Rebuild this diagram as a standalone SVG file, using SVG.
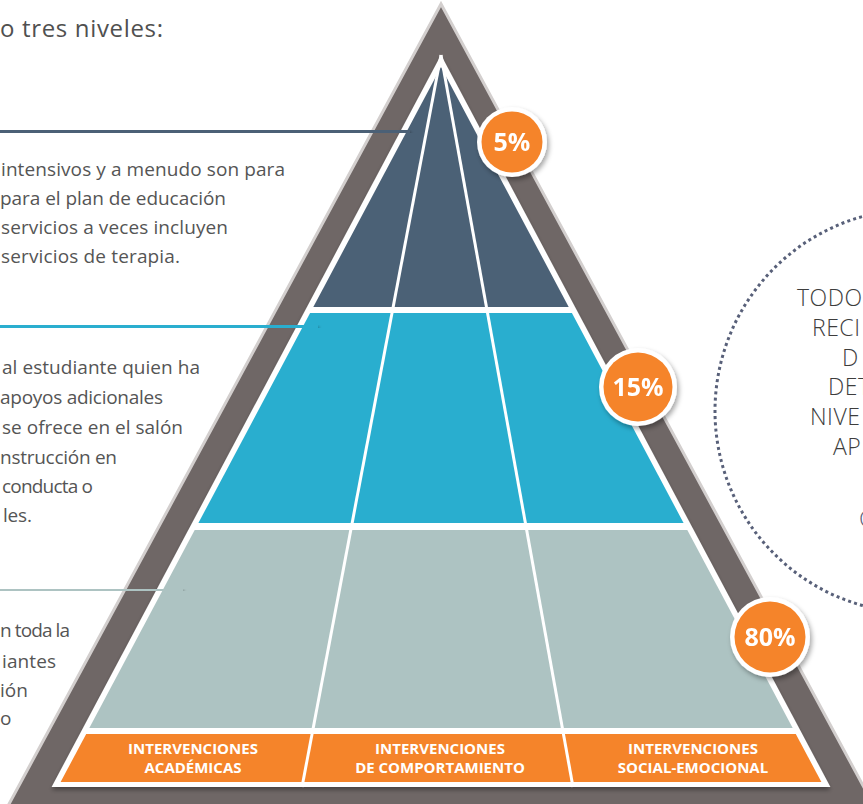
<svg xmlns="http://www.w3.org/2000/svg" width="863" height="804" viewBox="0 0 863 804">
  <defs>
    <style>
      .body{font-family:"Open Sans","Liberation Sans",sans-serif;font-size:19px;font-weight:400;fill:#555555}
      .title{font-family:"Open Sans","Liberation Sans",sans-serif;font-size:24px;font-weight:400;fill:#505050}
      .circ{font-family:"Open Sans","Liberation Sans",sans-serif;font-size:23px;font-weight:300;fill:#3d3d3d;letter-spacing:0.5px}
      .pct{font-family:"Open Sans","Liberation Sans",sans-serif;font-size:25px;font-weight:700;fill:#ffffff;text-anchor:middle}
      .lbl{font-family:"Open Sans","Liberation Sans",sans-serif;font-size:15px;font-weight:700;fill:#ffffff;text-anchor:middle}
      .divider{stroke:#ffffff;stroke-width:3;fill:none}
      .conn{stroke-width:5;fill:none}
      .ring{fill:#ffffff}
      .dot{fill:#f5842a}
    </style>
    <filter id="sh" x="-20%" y="-50%" width="140%" height="300%">
      <feDropShadow dx="1" dy="2.5" stdDeviation="1.5" flood-color="#000" flood-opacity="0.35"/>
    </filter>
    <filter id="csh" x="-30%" y="-30%" width="160%" height="160%">
      <feDropShadow dx="2" dy="3" stdDeviation="2.5" flood-color="#000" flood-opacity="0.35"/>
    </filter>
    <filter id="wsh" x="-5%" y="-5%" width="110%" height="115%">
      <feDropShadow dx="0" dy="3" stdDeviation="2" flood-color="#000" flood-opacity="0.35"/>
    </filter>
  </defs>

  <rect width="863" height="804" fill="#ffffff"/>

  <!-- title and left text -->
  <g id="title">
    <text class="title" x="0" y="37" textLength="163" lengthAdjust="spacing">o tres niveles:</text>
  </g>
  <g id="text-tier3">
    <text class="body" x="1" y="176" textLength="284" lengthAdjust="spacing">intensivos y a menudo son para</text>
    <text class="body" x="0" y="205" textLength="226" lengthAdjust="spacing">para el plan de educación</text>
    <text class="body" x="1" y="234" textLength="227" lengthAdjust="spacing">servicios a veces incluyen</text>
    <text class="body" x="1" y="263" textLength="179" lengthAdjust="spacing">servicios de terapia.</text>
  </g>
  <g id="text-tier2">
    <text class="body" x="2" y="374" textLength="198" lengthAdjust="spacing">al estudiante quien ha</text>
    <text class="body" x="0" y="404" textLength="163" lengthAdjust="spacing">apoyos adicionales</text>
    <text class="body" x="2" y="434" textLength="181" lengthAdjust="spacing">se ofrece en el salón</text>
    <text class="body" x="0" y="464" textLength="117" lengthAdjust="spacing">nstrucción en</text>
    <text class="body" x="2" y="493" textLength="91" lengthAdjust="spacing">conducta o</text>
    <text class="body" x="3" y="522" textLength="29" lengthAdjust="spacing">les.</text>
  </g>
  <g id="text-tier1">
    <text class="body" x="0" y="637" textLength="70" lengthAdjust="spacing">n toda la</text>
    <text class="body" x="2" y="668" textLength="54" lengthAdjust="spacing">iantes</text>
    <text class="body" x="0" y="697" textLength="28" lengthAdjust="spacing">ión</text>
    <text class="body" x="0" y="725">o</text>
  </g>

  <!-- pyramid frame -->
  <g id="pyramid-frame">
    <polygon points="441,4 -5,830 887,830" fill="#6f6766" stroke="#d3cfce" stroke-width="3" stroke-linejoin="miter"/>
    <polygon points="441,55 51.6,787 830.4,787" fill="#ffffff" filter="url(#wsh)"/>
  </g>

  <g id="tier-top">
    <polygon points="441,67 313.3,307 568.7,307" fill="#4b6176"/>
  </g>
  <g id="tier-middle">
    <polygon points="310.1,313 571.9,313 683.6,523 198.4,523" fill="#29aecf"/>
  </g>
  <g id="tier-base">
    <polygon points="194.7,530 687.3,530 792.7,728 89.3,728" fill="#adc3c2"/>
  </g>
  <g id="label-band">
    <polygon points="86.2,734 795.8,734 821.4,782 60.6,782" fill="#f5842a"/>
  </g>

  <g id="dividers">
    <line class="divider" x1="441" y1="55" x2="302" y2="787"/>
    <line class="divider" x1="441" y1="55" x2="573" y2="787"/>
  </g>

  <g id="labels">
    <g id="label-academicas">
      <text class="lbl" x="193" y="754">INTERVENCIONES</text>
      <text class="lbl" x="193" y="773">ACADÉMICAS</text>
    </g>
    <g id="label-comportamiento">
      <text class="lbl" x="440" y="754">INTERVENCIONES</text>
      <text class="lbl" x="440" y="773">DE COMPORTAMIENTO</text>
    </g>
    <g id="label-socioemocional">
      <text class="lbl" x="693" y="754">INTERVENCIONES</text>
      <text class="lbl" x="693" y="773">SOCIAL-EMOCIONAL</text>
    </g>
  </g>

  <!-- connectors -->
  <g id="connectors">
    <line class="conn" x1="-2" y1="130.5" x2="410" y2="131.5" stroke="#4b6176" filter="url(#sh)"/>
    <line class="conn" x1="-2" y1="326" x2="318" y2="326.5" stroke="#29aecf" filter="url(#sh)"/>
    <line class="conn" x1="-2" y1="589.5" x2="183" y2="590" stroke="#adc3c2" filter="url(#sh)"/>
  </g>

  <!-- percentage badges -->
  <g id="pct-5" filter="url(#csh)">
    <circle class="ring" cx="512" cy="142" r="35"/>
    <circle class="dot" cx="512" cy="142" r="30.5"/>
    <text class="pct" x="512" y="151">5%</text>
  </g>
  <g id="pct-15" filter="url(#csh)">
    <circle class="ring" cx="638" cy="387" r="39"/>
    <circle class="dot" cx="638" cy="387" r="34.5"/>
    <text class="pct" x="638" y="396">15%</text>
  </g>
  <g id="pct-80" filter="url(#csh)">
    <circle class="ring" cx="770" cy="637" r="40"/>
    <circle class="dot" cx="770" cy="637" r="35.5"/>
    <text class="pct" x="770" y="646">80%</text>
  </g>

  <!-- dotted circle note -->
  <g id="note-circle">
    <circle cx="917" cy="411" r="202" fill="none" stroke="#586079" stroke-width="3" stroke-dasharray="3 3.2"/>
    <text class="circ" x="797" y="306">TODO</text>
    <text class="circ" x="812" y="336">RECI</text>
    <text class="circ" x="842" y="366">D</text>
    <text class="circ" x="828" y="395">DETI</text>
    <text class="circ" x="810" y="425">NIVE</text>
    <text class="circ" x="833" y="455">AP</text>
    <text class="circ" x="859" y="527" style="fill:#586079">C</text>
  </g>
</svg>
